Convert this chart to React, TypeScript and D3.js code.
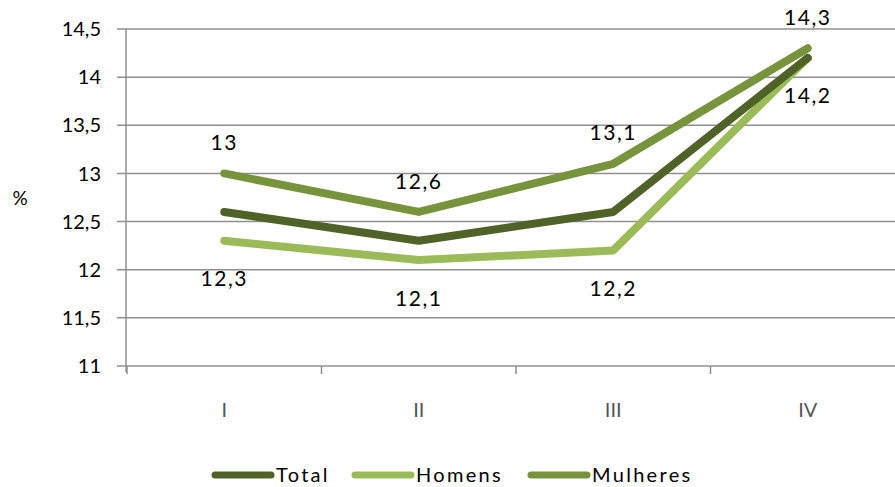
import React from 'react';
import * as d3 from 'd3';

// quarters
const categories = ['I', 'II', 'III', 'IV'];
const total = [12.6, 12.3, 12.6, 14.2];
const homens = [12.3, 12.1, 12.2, 14.2];
const mulheres = [13, 12.6, 13.1, 14.3];
const yTicks = [11, 11.5, 12, 12.5, 13, 13.5, 14, 14.5];

const W = 895, H = 487;
const FONT = 'Lato, "Liberation Sans", sans-serif';

const series = [
  { name: 'Total', values: total, color: '#4f6228', label: null },
  { name: 'Homens', values: homens, color: '#9bbb59', label: 'below' },
  { name: 'Mulheres', values: mulheres, color: '#77933c', label: 'above' },
];

const fmt = (v: number) => String(v).replace('.', ',');

export default function App() {
  const x = d3.scaleBand<string>().domain(categories).range([127, 905]).paddingInner(0).paddingOuter(0);
  const y = d3.scaleLinear().domain([11, 14.5]).range([366, 29]);
  const cx = (c: string) => (x(c) as number) + x.bandwidth() / 2;

  const line = d3.line<number>()
    .x((d, i) => cx(categories[i]))
    .y(d => y(d));

  // drawing order: Homens, Total, Mulheres on top
  const drawOrder = [series[1], series[0], series[2]];

  const legendX = [215, 355, 531];

  return (
    <svg width={W} height={H} style={{ position: 'absolute', left: 0, top: 0, background: '#fff' }}
      fontFamily={FONT}>
      {/* grid */}
      {yTicks.map(t => (
        <g key={t}>
          <line x1={117} x2={W} y1={y(t)} y2={y(t)} stroke="#8f8f8f" strokeWidth={1.5} />
          <text x={101} y={y(t)} dy="0.36em" textAnchor="end" fontSize={20} fill="#000">{fmt(t)}</text>
        </g>
      ))}
      {/* y axis */}
      <line x1={126} x2={126} y1={29} y2={372} stroke="#8f8f8f" strokeWidth={1.5} />
      {/* x ticks */}
      {categories.map(c => (
        <line key={c} x1={x(c) as number} x2={x(c) as number} y1={366} y2={374} stroke="#8f8f8f" strokeWidth={1.5} />
      ))}
      {categories.map(c => (
        <text key={c} x={cx(c)} y={410} dy="0.36em" textAnchor="middle" fontSize={20} fill="#555">{c}</text>
      ))}
      <text x={20} y={198} dy="0.36em" textAnchor="middle" fontSize={19} fill="#000">%</text>

      {/* lines */}
      {drawOrder.map(s => (
        <path key={s.name} d={line(s.values) || ''} fill="none" stroke={s.color}
          strokeWidth={8} strokeLinecap="round" strokeLinejoin="round" />
      ))}

      {/* data labels */}
      {series.filter(s => s.label).map(s => s.values.map((v, i) => (
        <text key={s.name + i} x={cx(categories[i])} y={y(v) + (s.label === 'above' ? -31 : 38)}
          dy="0.36em" textAnchor="middle" fontSize={21} letterSpacing={1.5} fill="#000">{fmt(v)}</text>
      )))}

      {/* legend */}
      {series.map((s, i) => (
        <g key={s.name}>
          <line x1={legendX[i]} x2={legendX[i] + 56} y1={475} y2={475} stroke={s.color} strokeWidth={7} strokeLinecap="round" />
          <text x={legendX[i] + 61} y={475} dy="0.36em" fontSize={20} letterSpacing={2.3} fill="#000">{s.name}</text>
        </g>
      ))}
    </svg>
  );
}
